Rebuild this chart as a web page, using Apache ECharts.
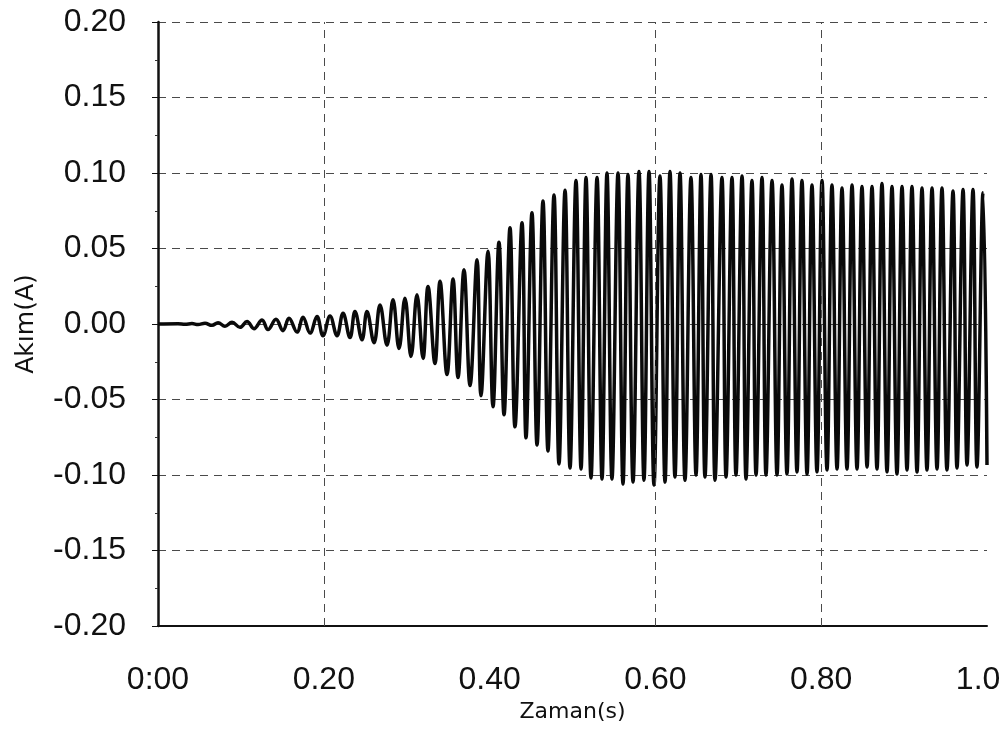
<!DOCTYPE html>
<html>
<head>
<meta charset="utf-8">
<script src="https://cdn.jsdelivr.net/npm/echarts@6/dist/echarts.min.js"></script>
<style>
html,body{margin:0;padding:0;background:#fff;}
#chart{width:1006px;height:733px;}
</style>
</head>
<body>
<div id="chart"></div>
<script>
// Time (s) of each successive extremum (peak / trough) of the current waveform
var timeS = [0.0000,
 0.0241,0.0326,0.0410,0.0483,0.0567,0.0651,0.0724,0.0808,0.0893,0.0989,
 0.1074,0.1158,0.1255,0.1327,0.1423,0.1508,0.1580,0.1677,0.1749,0.1834,
 0.1918,0.1990,0.2075,0.2159,0.2232,0.2316,0.2376,0.2461,0.2521,0.2606,
 0.2678,0.2762,0.2835,0.2907,0.2979,0.3052,0.3124,0.3197,0.3257,0.3341,
 0.3402,0.3486,0.3559,0.3619,0.3691,0.3764,0.3848,0.3896,0.3981,0.4041,
 0.4113,0.4174,0.4246,0.4306,0.4391,0.4439,0.4511,0.4572,0.4644,0.4704,
 0.4777,0.4837,0.4910,0.4970,0.5042,0.5103,0.5163,0.5223,0.5296,0.5356,
 0.5416,0.5476,0.5549,0.5609,0.5669,0.5730,0.5802,0.5862,0.5923,0.5983,
 0.6055,0.6116,0.6176,0.6236,0.6297,0.6357,0.6429,0.6490,0.6550,0.6598,
 0.6671,0.6719,0.6803,0.6852,0.6924,0.6972,0.7045,0.7093,0.7165,0.7214,
 0.7286,0.7334,0.7407,0.7467,0.7527,0.7587,0.7648,0.7708,0.7768,0.7829,
 0.7889,0.7949,0.8010,0.8070,0.8130,0.8191,0.8251,0.8311,0.8372,0.8432,
 0.8492,0.8553,0.8613,0.8673,0.8733,0.8794,0.8854,0.8914,0.8975,0.9035,
 0.9095,0.9156,0.9216,0.9276,0.9337,0.9397,0.9457,0.9517,0.9590,0.9638,
 0.9711,0.9759,0.9831,0.9879,0.9952,1.0000];

// Current (A) at each extremum
var currentA = [0.0000,
 0.0002,-0.0002,0.0003,-0.0004,0.0005,-0.0009,0.0009,-0.0015,0.0011,-0.0022,
 0.0016,-0.0031,0.0027,-0.0037,0.0031,-0.0044,0.0038,-0.0053,0.0045,-0.0060,
 0.0049,-0.0078,0.0053,-0.0078,0.0071,-0.0090,0.0083,-0.0105,0.0083,-0.0124,
 0.0126,-0.0140,0.0160,-0.0162,0.0171,-0.0215,0.0193,-0.0228,0.0249,-0.0262,
 0.0283,-0.0335,0.0298,-0.0355,0.0360,-0.0408,0.0426,-0.0475,0.0482,-0.0548,
 0.0542,-0.0601,0.0637,-0.0681,0.0670,-0.0754,0.0737,-0.0801,0.0815,-0.0841,
 0.0855,-0.0927,0.0886,-0.0954,0.0950,-0.0960,0.0970,-0.1020,0.0970,-0.1027,
 0.1000,-0.1027,0.1000,-0.1060,0.0990,-0.1047,0.1010,-0.1034,0.1010,-0.1067,
 0.0980,-0.1047,0.1010,-0.1014,0.1000,-0.1034,0.0970,-0.1000,0.0990,-0.1014,
 0.0990,-0.1034,0.0970,-0.1014,0.0970,-0.1000,0.0980,-0.1027,0.0950,-0.1000,
 0.0970,-0.1000,0.0950,-0.1000,0.0920,-0.0994,0.0960,-0.0980,0.0950,-0.0994,
 0.0920,-0.0980,0.0950,-0.0967,0.0920,-0.0961,0.0900,-0.0961,0.0920,-0.0961,
 0.0910,-0.0947,0.0910,-0.0961,0.0930,-0.0980,0.0910,-0.0994,0.0910,-0.0967,
 0.0910,-0.0980,0.0900,-0.0967,0.0900,-0.0961,0.0900,-0.0967,0.0880,-0.0954,
 0.0890,-0.0934,0.0890,-0.0947,0.0870,-0.0934];

var xTickLabels = ['0:00', '0.20', '0.40', '0.60', '0.80', '1.0'];
var yTickLabels = ['-0.20', '-0.15', '-0.10', '-0.05', '0.00', '0.05', '0.10', '0.15', '0.20'];
var vGridTimes = [0.2, 0.6, 0.8];
var xAxisTitle = 'Zaman(s)';
var yAxisTitle = 'Akım(A)';

var seriesData = timeS.map(function (t, i) { return [t, currentA[i]]; });

var chart = echarts.init(document.getElementById('chart'), null, {renderer: 'canvas'});
var gridLine = {color: '#4a4a4a', width: 1, type: [8, 6]};
chart.setOption({
  animation: false,
  backgroundColor: '#ffffff',
  grid: {left: 158, right: 19, top: 22, bottom: 107, containLabel: false, outerBoundsMode: 'none'},
  xAxis: {
    type: 'value', min: 0, max: 1, interval: 0.2,
    name: xAxisTitle, nameLocation: 'middle', nameGap: 75,
    nameTextStyle: {fontFamily: 'DejaVu Sans', fontSize: 22, color: '#111'},
    axisLine: {show: true, onZero: false, lineStyle: {color: '#111', width: 2}},
    axisTick: {show: false},
    splitLine: {show: false},
    axisLabel: {
      margin: 38, color: '#111', fontFamily: 'Liberation Sans', fontSize: 32,
      formatter: function (v) {
        var i = Math.round(v / 0.2);
        return i === xTickLabels.length - 1 ? xTickLabels[i] + '\u00a0\u00a0' : xTickLabels[i];
      }
    }
  },
  yAxis: {
    type: 'value', min: -0.2, max: 0.2, interval: 0.05,
    name: yAxisTitle, nameLocation: 'middle', nameGap: 119, nameRotate: 90,
    nameTextStyle: {fontFamily: 'DejaVu Sans', fontSize: 25, color: '#111'},
    axisLine: {show: true, onZero: false, lineStyle: {color: '#111', width: 2.5}},
    axisTick: {show: true, length: 6, lineStyle: {color: '#111', width: 1}},
    minorTick: {show: true, splitNumber: 2, length: 3, lineStyle: {color: '#333', width: 1}},
    splitLine: {show: true, lineStyle: gridLine},
    axisLabel: {
      margin: 32, color: '#111', fontFamily: 'Liberation Sans', fontSize: 32,
      formatter: function (v) { return yTickLabels[Math.round((v + 0.2) / 0.05)]; }
    }
  },
  series: [{
    type: 'line',
    data: seriesData,
    smooth: 0.4,
    showSymbol: false,
    symbol: 'none',
    sampling: null,
    lineStyle: {color: '#0a0a0a', width: 3.5},
    markLine: {
      silent: true, symbol: 'none', label: {show: false},
      lineStyle: gridLine,
      data: vGridTimes.map(function (t) { return {xAxis: t}; })
    },
    z: 3
  }]
});
</script>
</body>
</html>
